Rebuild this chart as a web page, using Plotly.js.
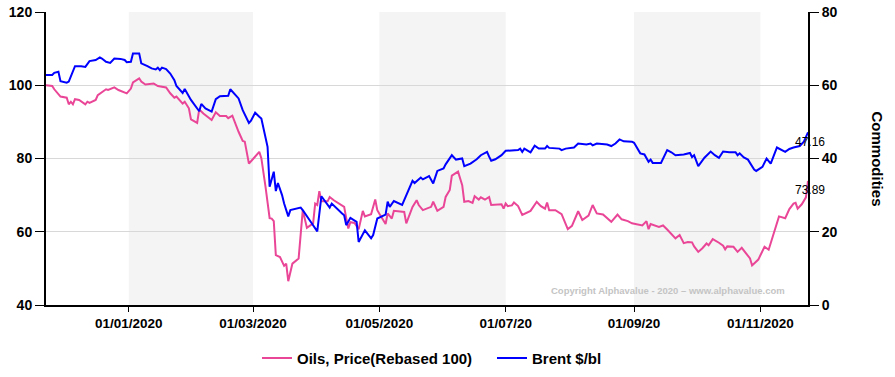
<!DOCTYPE html>
<html>
<head>
<meta charset="utf-8">
<script src="https://cdn.plot.ly/plotly-3.0.1.min.js"></script>
<style>
html,body{margin:0;padding:0;background:#fff;}
#chart{width:895px;height:377px;}
</style>
</head>
<body>
<div id="chart"></div>
<script>
const oilsDates = ['2019-11-22','2019-11-25','2019-11-26','2019-11-27','2019-11-29','2019-12-02','2019-12-03','2019-12-04','2019-12-05','2019-12-06',
'2019-12-08','2019-12-11','2019-12-12','2019-12-13','2019-12-16','2019-12-17','2019-12-19','2019-12-21','2019-12-22','2019-12-25',
'2019-12-27','2019-12-29','2019-12-31','2020-01-02','2020-01-03','2020-01-06','2020-01-07','2020-01-09','2020-01-13','2020-01-15',
'2020-01-19','2020-01-21','2020-01-23','2020-01-24','2020-01-27','2020-01-28','2020-01-30','2020-01-31','2020-02-03','2020-02-04',
'2020-02-06','2020-02-10','2020-02-12','2020-02-14','2020-02-17','2020-02-18','2020-02-20','2020-02-23','2020-02-25','2020-02-26',
'2020-02-28','2020-03-04','2020-03-05','2020-03-07','2020-03-09','2020-03-10','2020-03-11','2020-03-12','2020-03-14','2020-03-16',
'2020-03-17','2020-03-18','2020-03-20','2020-03-23','2020-03-25','2020-03-27','2020-03-30','2020-03-31','2020-04-01','2020-04-02',
'2020-04-03','2020-04-06','2020-04-07','2020-04-09','2020-04-14','2020-04-15','2020-04-16','2020-04-17','2020-04-19','2020-04-21',
'2020-04-23','2020-04-24','2020-04-27','2020-04-29','2020-04-30','2020-05-01','2020-05-04','2020-05-05','2020-05-07','2020-05-08',
'2020-05-13','2020-05-14','2020-05-17','2020-05-19','2020-05-20','2020-05-22','2020-05-26','2020-05-27','2020-05-29','2020-06-01',
'2020-06-02','2020-06-04','2020-06-05','2020-06-08','2020-06-10','2020-06-11','2020-06-13','2020-06-15','2020-06-16','2020-06-18',
'2020-06-19','2020-06-21','2020-06-23','2020-06-24','2020-06-27','2020-06-29','2020-06-30','2020-07-01','2020-07-02','2020-07-04',
'2020-07-05','2020-07-07','2020-07-09','2020-07-13','2020-07-16','2020-07-18','2020-07-20','2020-07-21','2020-07-22','2020-07-25',
'2020-07-28','2020-07-31','2020-08-02','2020-08-05','2020-08-07','2020-08-10','2020-08-12','2020-08-14','2020-08-17','2020-08-19',
'2020-08-21','2020-08-24','2020-08-26','2020-08-29','2020-08-31','2020-09-05','2020-09-07','2020-09-08','2020-09-09','2020-09-13',
'2020-09-15','2020-09-17','2020-09-19','2020-09-21','2020-09-23','2020-09-25','2020-09-27','2020-09-29','2020-09-30','2020-10-02',
'2020-10-04','2020-10-06','2020-10-07','2020-10-09','2020-10-12','2020-10-14','2020-10-15','2020-10-16','2020-10-19','2020-10-21',
'2020-10-23','2020-10-25','2020-10-27','2020-10-28','2020-10-31','2020-11-03','2020-11-05','2020-11-10','2020-11-11','2020-11-13',
'2020-11-15','2020-11-17','2020-11-18','2020-11-19','2020-11-21','2020-11-23','2020-11-24'];
const oilsValues = [100,99.8,98.9,98.2,96.9,96.6,94.8,95.5,94.8,96.2,
96.0,94.8,95.5,95.2,96.0,97.3,98.2,98.9,98.7,99.4,
98.7,98.2,97.8,99.1,100.8,101.9,101.0,100.2,100.5,99.8,
99.4,97.8,96.6,96.9,95.0,95.5,93.7,90.7,89.7,93.4,
92.3,90.5,92.6,91.6,91.6,91.0,91.7,87.3,84.8,84.6,
78.6,81.8,80.1,72.3,63.7,63.6,62.9,53.6,53.1,50.7,
51.3,46.5,51.3,52.7,65.9,61.1,62.3,67.7,67.3,71.1,
68.3,68.3,69.5,68.6,66.8,63.7,60.9,62.6,62.4,60.7,
65.7,64.2,64.8,68.8,65.9,64.9,62.1,65.0,63.6,65.7,
65.4,62.3,66.8,68.6,67.3,65.9,66.8,68.2,65.7,66.8,
69.5,71.4,75.3,76.4,72.7,68.2,68.4,67.9,69.7,68.8,
69.4,68.8,69.5,67.3,67.3,67.5,66.3,67.7,67.0,67.2,
68.0,67.0,64.6,65.7,68.2,67.0,66.3,68.0,65.9,65.9,
64.8,60.7,61.6,65.6,63.2,64.4,67.3,65.0,64.7,63.7,
62.7,64.7,63.4,62.9,62.3,61.7,62.9,60.7,62.1,61.3,
61.7,60.6,59.5,58.2,59.1,56.9,57.2,57.1,56.0,54.5,
55.5,56.8,56.3,58.0,57.0,56.2,55.2,56.0,55.9,54.5,
55.6,54.3,52.7,50.8,52.4,55.9,55.1,64.2,64.1,63.7,
66.2,67.7,67.9,66.3,67.5,69.4,73.89];

const brentDates = ['2019-11-22','2019-11-25','2019-11-26','2019-11-28','2019-11-29','2019-12-02','2019-12-03','2019-12-06','2019-12-09','2019-12-11',
'2019-12-13','2019-12-16','2019-12-18','2019-12-19','2019-12-21','2019-12-23','2019-12-25','2019-12-28','2019-12-30','2019-12-31',
'2020-01-02','2020-01-03','2020-01-06','2020-01-07','2020-01-10','2020-01-12','2020-01-14','2020-01-15','2020-01-16','2020-01-17',
'2020-01-19','2020-01-21','2020-01-23','2020-01-24','2020-01-27','2020-01-28','2020-01-31','2020-02-04','2020-02-05','2020-02-07',
'2020-02-10','2020-02-12','2020-02-14','2020-02-18','2020-02-19','2020-02-23','2020-02-25','2020-02-28','2020-02-29','2020-03-02',
'2020-03-04','2020-03-05','2020-03-08','2020-03-09','2020-03-11','2020-03-12','2020-03-13','2020-03-15','2020-03-16','2020-03-18',
'2020-03-19','2020-03-22','2020-03-24','2020-03-25','2020-03-28','2020-03-29','2020-04-01','2020-04-03','2020-04-07','2020-04-08',
'2020-04-13','2020-04-14','2020-04-15','2020-04-17','2020-04-20','2020-04-21','2020-04-24','2020-04-27','2020-04-28','2020-04-30',
'2020-05-04','2020-05-05','2020-05-06','2020-05-08','2020-05-12','2020-05-14','2020-05-17','2020-05-18','2020-05-21','2020-05-22',
'2020-05-25','2020-05-27','2020-05-29','2020-06-01','2020-06-02','2020-06-05','2020-06-07','2020-06-10','2020-06-11','2020-06-14',
'2020-06-17','2020-06-19','2020-06-22','2020-06-23','2020-06-24','2020-06-26','2020-06-29','2020-07-01','2020-07-07','2020-07-08',
'2020-07-09','2020-07-10','2020-07-13','2020-07-15','2020-07-17','2020-07-20','2020-07-21','2020-07-22','2020-07-27','2020-07-28',
'2020-07-30','2020-08-03','2020-08-05','2020-08-09','2020-08-11','2020-08-12','2020-08-14','2020-08-19','2020-08-21','2020-08-23',
'2020-08-25','2020-08-27','2020-08-31','2020-09-01','2020-09-04','2020-09-06','2020-09-08','2020-09-09','2020-09-10','2020-09-14',
'2020-09-17','2020-09-19','2020-09-21','2020-09-25','2020-09-28','2020-09-29','2020-09-30','2020-10-02','2020-10-05','2020-10-08',
'2020-10-10','2020-10-12','2020-10-14','2020-10-17','2020-10-20','2020-10-21','2020-10-22','2020-10-24','2020-10-26','2020-10-29',
'2020-10-30','2020-11-02','2020-11-04','2020-11-06','2020-11-09','2020-11-13','2020-11-15','2020-11-17','2020-11-20','2020-11-22',
'2020-11-24'];
const brentValues = [62.8,62.8,63.4,63.7,61.1,60.7,61.0,65.2,65.2,65.0,
66.6,66.9,67.6,67.3,66.4,66.1,67.3,67.2,66.9,66.3,
66.4,68.7,68.7,66.0,65.2,64.6,64.3,64.8,64.1,64.8,
64.4,63.2,61.4,59.8,57.9,59.0,56.0,52.9,54.9,53.7,
52.8,56.2,57.0,57.1,58.9,56.4,53.2,49.7,50.3,52.5,
51.4,50.9,43.2,32.3,36.4,31.1,33.3,30.0,27.7,24.2,
25.9,26.2,26.6,25.9,23.6,22.6,20.1,29.7,26.6,27.7,
25.0,24.5,21.8,23.8,22.7,17.2,20.4,18.2,19.1,23.6,
24.7,28.2,26.8,28.4,27.3,30.0,33.9,33.3,34.8,34.3,
35.2,33.2,36.6,37.3,38.4,40.9,39.7,40.0,37.9,38.6,
39.8,40.9,41.8,40.5,39.4,39.8,40.9,42.1,42.3,42.7,
41.8,42.7,41.7,43.5,42.7,42.7,43.4,42.9,42.7,42.3,
42.7,43.0,44.1,43.8,44.1,43.6,44.1,43.8,43.4,44.1,
45.2,44.7,44.6,44.3,41.4,41.1,39.1,39.7,38.8,38.8,
42.3,41.7,40.9,41.1,41.5,40.4,40.9,37.9,40.2,41.9,
40.9,40.2,41.9,41.7,41.7,40.9,41.4,40.3,39.7,37.0,
36.6,37.7,40.0,38.6,43.0,41.8,42.6,43.0,43.4,44.6,
47.16];

const tickDates = ['2020-01-01','2020-03-01','2020-05-01','2020-07-01','2020-09-01','2020-11-01'];
const tickLabels = ['01/01/2020','01/03/2020','01/05/2020','01/07/20','01/09/20','01/11/2020'];
const bandStarts = ['2020-01-01','2020-05-01','2020-09-01'];
const bandEnds = ['2020-03-01','2020-07-01','2020-11-01'];
const seriesNames = ['Oils, Price(Rebased 100)','Brent $/bl'];
const lastOils = oilsValues[oilsValues.length-1];
const lastBrent = brentValues[brentValues.length-1];

const FONT = 'Liberation Sans, Arial, sans-serif';

const traces = [
  {x: oilsDates, y: oilsValues, name: seriesNames[0], type: 'scatter', mode: 'lines',
   line: {color: '#ea4697', width: 2}, yaxis: 'y'},
  {x: brentDates, y: brentValues, name: seriesNames[1], type: 'scatter', mode: 'lines',
   line: {color: '#0000ff', width: 2}, yaxis: 'y2'}
];

const shapes = bandStarts.map((s, i) => ({
  type: 'rect', xref: 'x', yref: 'paper', x0: s, x1: bandEnds[i], y0: 0, y1: 1,
  fillcolor: '#f4f4f4', line: {width: 0}, layer: 'below'
}));

const layout = {
  width: 895, height: 377,
  margin: {l: 46, r: 87, t: 12, b: 72, autoexpand: false},
  paper_bgcolor: '#ffffff', plot_bgcolor: '#ffffff',
  font: {family: FONT, color: '#000'},
  showlegend: true,
  legend: {orientation: 'h', x: 0.5853, xanchor: 'center', xref: 'paper',
    yref: 'container', y: 0.05, yanchor: 'middle',
    font: {family: FONT, size: 15, weight: 'bold', color: '#000'}, itemwidth: 30,
    entrywidth: 190, entrywidthmode: 'pixels'},
  xaxis: {
    type: 'date', range: ['2019-11-22', '2020-11-24'],
    tickmode: 'array', tickvals: tickDates, ticktext: tickLabels,
    ticks: 'outside', ticklen: 5, tickwidth: 1, tickcolor: '#000',
    showline: true, linecolor: '#000', linewidth: 2, showgrid: false, zeroline: false,
    tickfont: {family: FONT, size: 13.5, weight: 'bold', color: '#000'}
  },
  yaxis: {
    range: [40, 120], tickmode: 'linear', tick0: 40, dtick: 20,
    ticks: 'outside', ticklen: 9, tickwidth: 1, tickcolor: '#000',
    showline: true, linecolor: '#000', linewidth: 2,
    showgrid: true, gridcolor: '#d8d8d8', gridwidth: 1, zeroline: false,
    tickfont: {family: FONT, size: 14, weight: 'bold', color: '#000'}
  },
  yaxis2: {
    range: [0, 80], tickmode: 'linear', tick0: 0, dtick: 20,
    overlaying: 'y', side: 'right',
    ticks: 'outside', ticklen: 9, tickwidth: 1, tickcolor: '#000',
    showline: true, linecolor: '#000', linewidth: 2,
    showgrid: false, zeroline: false,
    tickfont: {family: FONT, size: 14, weight: 'bold', color: '#000'}
  },
  shapes: shapes,
  annotations: [
    {xref: 'paper', yref: 'y2', x: 1, y: lastBrent, text: String(lastBrent), showarrow: false,
     xanchor: 'center', yanchor: 'middle', xshift: 2, yshift: -10,
     font: {family: FONT, size: 12, color: '#000'}},
    {xref: 'paper', yref: 'y', x: 1, y: lastOils, text: String(lastOils), showarrow: false,
     xanchor: 'center', yanchor: 'middle', xshift: 2, yshift: -9,
     font: {family: FONT, size: 12, color: '#000'}},
    {xref: 'paper', yref: 'paper', x: 1.0906, y: 0.5, text: 'Commodities', showarrow: false,
     textangle: 90, xanchor: 'center', yanchor: 'middle',
     font: {family: FONT, size: 15, weight: 'bold', color: '#000'}},
    {xref: 'paper', yref: 'paper', x: 0.816, y: 0.051, text: 'Copyright Alphavalue - 2020 \u2013 www.alphavalue.com',
     showarrow: false, xanchor: 'center', yanchor: 'middle',
     font: {family: FONT, size: 9.5, weight: 'bold', color: '#c4c4c4'}}
  ]
};

Plotly.newPlot('chart', traces, layout, {displayModeBar: false, staticPlot: true});
</script>
</body>
</html>
